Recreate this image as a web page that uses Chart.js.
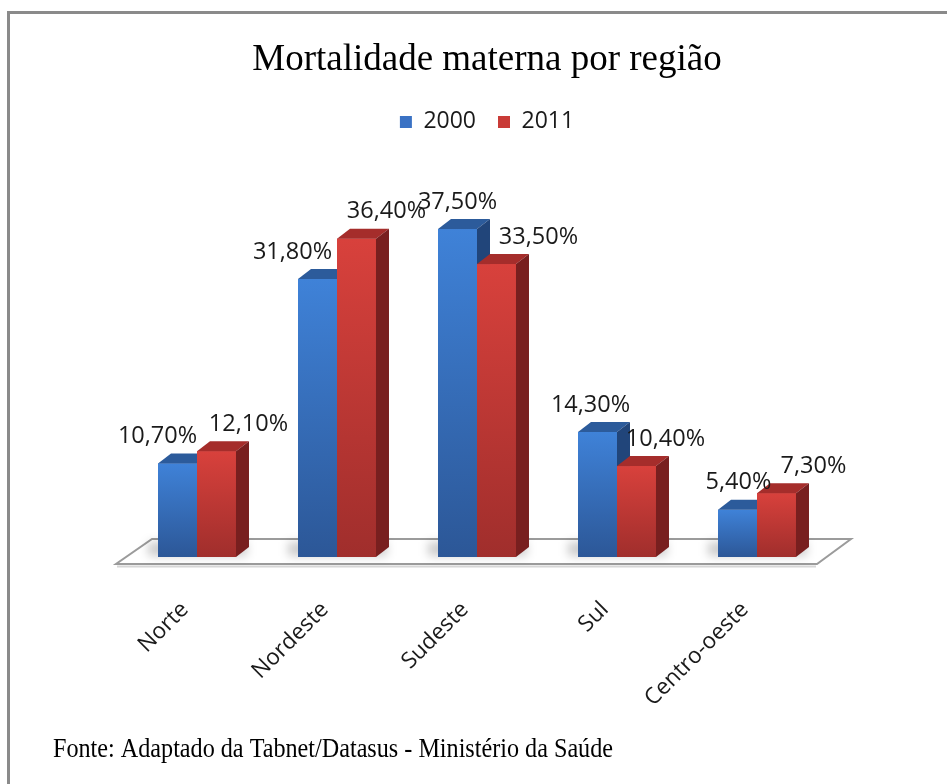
<!DOCTYPE html>
<html>
<head>
<meta charset="utf-8">
<script src="https://cdn.jsdelivr.net/npm/chart.js@4.4.1/dist/chart.umd.min.js"></script>
<style>
  html, body { margin: 0; padding: 0; background: #fff; }
  #wrap { width: 947px; height: 784px; position: relative; }
</style>
</head>
<body>
<div id="wrap"><canvas id="chart"></canvas></div>
<script>
const regions = ['Norte', 'Nordeste', 'Sudeste', 'Sul', 'Centro-oeste'];
const seriesNames = ['2000', '2011'];
const values2000 = [10.7, 31.8, 37.5, 14.3, 5.4];
const values2011 = [12.1, 36.4, 33.5, 10.4, 7.3];
// horizontal nudges (px) for the value labels, as Excel placed them
const shift2000 = [-20, -25, 0, -7, 1];
const shift2011 = [32, 30, 42, 29, 37];

const DX = 13, DY = 10; // 3d depth of a bar
const palettes = [
  { flat: '#3a72c4', top: '#2c5b9b', side: '#21457a', front: ['#3f82d8', '#2c5797'] },
  { flat: '#c93b37', top: '#a52d2b', side: '#781f1f', front: ['#d8413c', '#a02e2c'] }
];
const shifts = [shift2000, shift2011];

function fmt(v) {
  return v.toFixed(2).replace('.', ',') + '%';
}

function drawBar3d(ctx, bar, pal) {
  const { x, y, base, width } = bar.getProps(['x', 'y', 'base', 'width'], true);
  const l = x - width / 2, r = x + width / 2;
  const g = ctx.createLinearGradient(0, y, 0, base);
  g.addColorStop(0, pal.front[0]);
  g.addColorStop(1, pal.front[1]);
  ctx.fillStyle = g;
  ctx.fillRect(l, y, width, base - y);
  // top face
  ctx.beginPath();
  ctx.moveTo(l, y);
  ctx.lineTo(r, y);
  ctx.lineTo(r + DX, y - DY);
  ctx.lineTo(l + DX, y - DY);
  ctx.closePath();
  ctx.fillStyle = pal.top;
  ctx.fill();
  // side face
  ctx.beginPath();
  ctx.moveTo(r, y);
  ctx.lineTo(r + DX, y - DY);
  ctx.lineTo(r + DX, base - DY);
  ctx.lineTo(r, base);
  ctx.closePath();
  ctx.fillStyle = pal.side;
  ctx.fill();
}

const bars3d = {
  id: 'bars3d',
  beforeDraw(chart) {
    const ctx = chart.ctx;
    ctx.save();
    ctx.strokeStyle = '#8a8a8a';
    ctx.lineWidth = 3;
    ctx.beginPath();
    ctx.moveTo(8.5, chart.height);
    ctx.lineTo(8.5, 12.5);
    ctx.lineTo(chart.width, 12.5);
    ctx.stroke();
    ctx.restore();
  },
  beforeDatasetsDraw(chart) {
    const ctx = chart.ctx;
    const a = chart.chartArea;
    // floor
    ctx.save();
    ctx.beginPath();
    ctx.moveTo(a.left - 11, a.bottom + 7);
    ctx.lineTo(a.right - 10, a.bottom + 7);
    ctx.lineTo(a.right + 24, a.bottom - 18);
    ctx.lineTo(a.left + 25, a.bottom - 18);
    ctx.closePath();
    ctx.fillStyle = '#ffffff';
    ctx.fill();
    ctx.strokeStyle = '#9b9b9b';
    ctx.lineWidth = 2;
    ctx.stroke();
    ctx.beginPath();
    ctx.moveTo(a.left - 10, a.bottom + 9.5);
    ctx.lineTo(a.right - 11, a.bottom + 9.5);
    ctx.strokeStyle = '#d6d6d6';
    ctx.stroke();

    // soft shadows behind each pair of bars
    const m0 = chart.getDatasetMeta(0), m1 = chart.getDatasetMeta(1);
    ctx.filter = 'blur(5px)';
    ctx.fillStyle = 'rgba(0,0,0,0.2)';
    m0.data.forEach((b, i) => {
      const r = m1.data[i];
      const l = b.x - b.width / 2;
      const rr = r.x + r.width / 2 + DX;
      ctx.fillRect(l - 10, b.base - 15, rr - l + 8, 14);
    });
    ctx.restore();
  },
  afterDatasetsDraw(chart) {
    // repaint every bar with its 3d faces, left series first so the
    // right one hides its neighbour's side face
    const ctx = chart.ctx;
    const m0 = chart.getDatasetMeta(0), m1 = chart.getDatasetMeta(1);
    ctx.save();
    m0.data.forEach((b, i) => {
      drawBar3d(ctx, b, palettes[0]);
      drawBar3d(ctx, m1.data[i], palettes[1]);
    });
    ctx.restore();
  },
  afterDraw(chart) {
    const ctx = chart.ctx;
    const a = chart.chartArea;
    const xs = chart.scales.x;
    ctx.save();
    // value labels
    ctx.font = '23.5px "Open Sans"';
    ctx.fillStyle = '#1a1a1a';
    ctx.textAlign = 'center';
    ctx.textBaseline = 'middle';
    chart.data.datasets.forEach((ds, di) => {
      chart.getDatasetMeta(di).data.forEach((bar, i) => {
        ctx.fillText(fmt(ds.data[i]), bar.x + shifts[di][i], bar.y - 27);
      });
    });
    // category labels, rotated
    ctx.font = '22.5px "Open Sans"';
    ctx.textAlign = 'right';
    regions.forEach((name, i) => {
      const px = xs.getPixelForValue(i) - 12;
      ctx.save();
      ctx.translate(px, a.bottom + 49);
      ctx.rotate(-Math.PI / 4);
      ctx.fillText(name, 0, 0);
      ctx.restore();
    });
    // source note
    ctx.font = '28px "Liberation Serif"';
    ctx.fillStyle = '#000';
    ctx.textAlign = 'left';
    ctx.textBaseline = 'alphabetic';
    ctx.fillText('Fonte: Adaptado da Tabnet/Datasus - Ministério da Saúde', 53, 757, 560);
    ctx.restore();
  }
};

Chart.defaults.font.family = "'Open Sans', sans-serif";

new Chart(document.getElementById('chart'), {
  type: 'bar',
  data: {
    labels: regions,
    datasets: [
      { label: seriesNames[0], data: values2000, backgroundColor: palettes[0].flat },
      { label: seriesNames[1], data: values2011, backgroundColor: palettes[1].flat }
    ]
  },
  options: {
    responsive: true,
    maintainAspectRatio: false,
    animation: false,
    events: [],
    categoryPercentage: 0.557,
    barPercentage: 1,
    layout: { padding: { top: 0, left: 127, right: 100, bottom: 227 } },
    plugins: {
      title: {
        display: true,
        text: 'Mortalidade materna por região',
        color: '#000',
        font: { family: "'Liberation Serif', serif", size: 37, weight: 'normal' },
        padding: { top: 38, bottom: 6 }
      },
      legend: {
        display: true,
        labels: {
          color: '#1a1a1a',
          boxWidth: 12,
          boxHeight: 12,
          padding: 22,
          font: { size: 23 }
        }
      },
      tooltip: { enabled: false }
    },
    scales: {
      x: { display: false },
      y: {
        position: 'right',
        min: 0,
        max: 47.3,
        grid: { display: false },
        border: { display: false },
        ticks: { display: false },
        afterFit(scale) { scale.width = 20; }
      }
    }
  },
  plugins: [bars3d]
});
</script>
</body>
</html>
